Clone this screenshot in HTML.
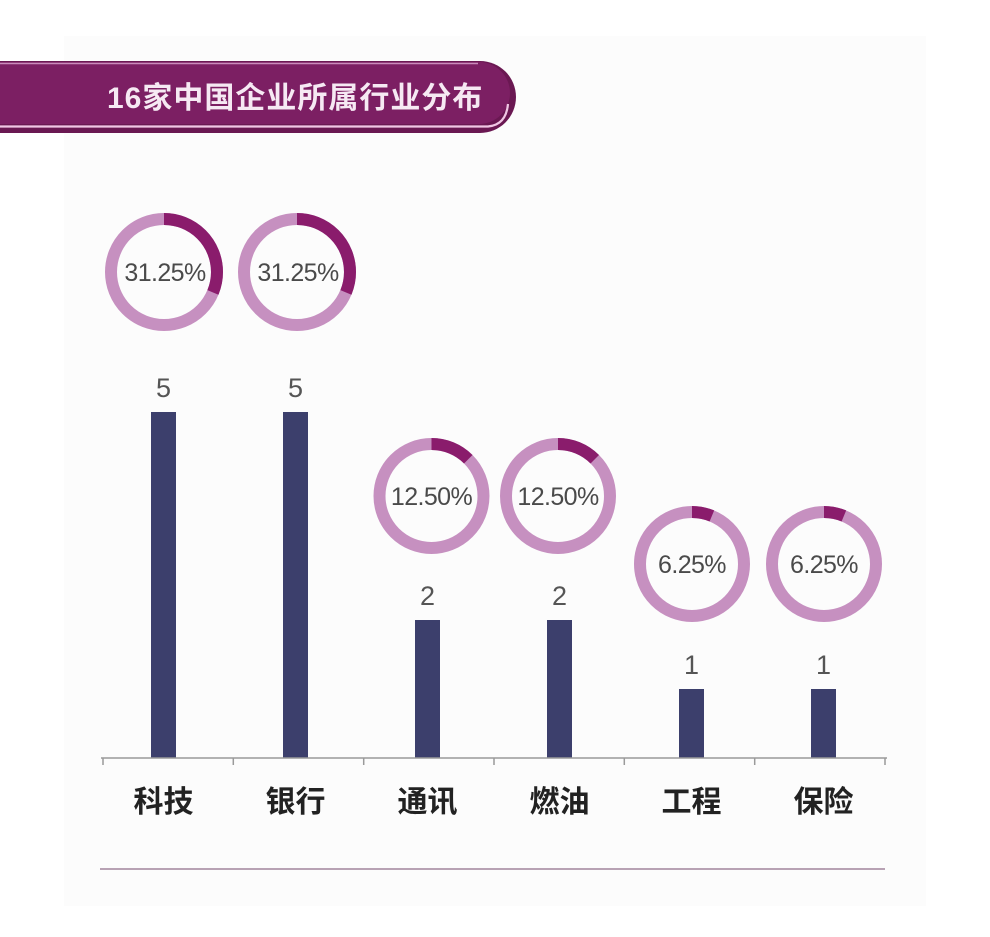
<!DOCTYPE html>
<html>
<head>
<meta charset="utf-8">
<style>
  html,body{margin:0;padding:0;background:#fff;}
  body{width:990px;height:937px;overflow:hidden;}
  svg{display:block;}
  .cjk{font-family:"Liberation Sans","Noto Sans CJK SC","WenQuanYi Zen Hei",sans-serif;}
  .num{font-family:"Liberation Sans",sans-serif;}
</style>
</head>
<body>
<svg width="990" height="937" viewBox="0 0 990 937" xmlns="http://www.w3.org/2000/svg">
  <rect x="0" y="0" width="990" height="937" fill="#ffffff"/>
  <rect x="64" y="36" width="862" height="870" fill="#fcfcfc"/>

  <!-- Title banner -->
  <path d="M-5 61 H480 A35 35 0 0 1 480 133 H-5 Z" fill="#6a1852"/>
  <path d="M-5 62 H479 A31 31 0 0 1 479 124 H-5 Z" fill="#7c1f63"/>
  <path d="M-5 63.5 H478" stroke="#c98bbb" stroke-width="1.5" fill="none"/>
  <path d="M-5 126.5 H488 Q506 125 508 104" stroke="#f0c6e4" stroke-width="2.2" fill="none"/>
  <text x="107" y="108" class="cjk" font-size="30" font-weight="bold" fill="#f6e9f3" letter-spacing="1">16家中国企业所属行业分布</text>

  <!-- Donuts -->
  <g fill="none" stroke-width="12">
    <circle cx="164" cy="272" r="53" stroke="#c690c0"/>
    <circle cx="164" cy="272" r="53" stroke="#8a1c6c" stroke-dasharray="104.1 400" transform="rotate(-90 164 272)"/>
    <circle cx="297" cy="272" r="53" stroke="#c690c0"/>
    <circle cx="297" cy="272" r="53" stroke="#8a1c6c" stroke-dasharray="104.1 400" transform="rotate(-90 297 272)"/>

    <circle cx="431.5" cy="496" r="52" stroke="#c690c0"/>
    <circle cx="431.5" cy="496" r="52" stroke="#8a1c6c" stroke-dasharray="40.8 400" transform="rotate(-90 431.5 496)"/>
    <circle cx="558" cy="496" r="52" stroke="#c690c0"/>
    <circle cx="558" cy="496" r="52" stroke="#8a1c6c" stroke-dasharray="40.8 400" transform="rotate(-90 558 496)"/>

    <circle cx="692" cy="564" r="52" stroke="#c690c0"/>
    <circle cx="692" cy="564" r="52" stroke="#8a1c6c" stroke-dasharray="20.4 400" transform="rotate(-90 692 564)"/>
    <circle cx="824" cy="564" r="52" stroke="#c690c0"/>
    <circle cx="824" cy="564" r="52" stroke="#8a1c6c" stroke-dasharray="20.4 400" transform="rotate(-90 824 564)"/>
  </g>
  <g class="num" font-size="25" fill="#4a4a4a" text-anchor="middle" letter-spacing="-0.6">
    <text x="165" y="281">31.25%</text>
    <text x="298" y="281">31.25%</text>
    <text x="431.5" y="505">12.50%</text>
    <text x="558" y="505">12.50%</text>
    <text x="692" y="573">6.25%</text>
    <text x="824" y="573">6.25%</text>
  </g>

  <!-- Bars -->
  <g fill="#3c3f6c">
    <rect x="151" y="412" width="25" height="346"/>
    <rect x="283" y="412" width="25" height="346"/>
    <rect x="415" y="620" width="25" height="138"/>
    <rect x="547" y="620" width="25" height="138"/>
    <rect x="679" y="689" width="25" height="69"/>
    <rect x="811" y="689" width="25" height="69"/>
  </g>
  <g class="num" font-size="27" fill="#555" text-anchor="middle">
    <text x="163.5" y="397">5</text>
    <text x="295.5" y="397">5</text>
    <text x="427.5" y="605">2</text>
    <text x="559.5" y="605">2</text>
    <text x="691.5" y="674">1</text>
    <text x="823.5" y="674">1</text>
  </g>

  <!-- Axis -->
  <g stroke="#9a9a9a" stroke-width="1.5" fill="none">
    <path d="M101 758 H887"/>
    <path d="M103 758 V765 M233.3 758 V765 M363.7 758 V765 M494 758 V765 M624.3 758 V765 M754.7 758 V765 M885 758 V765"/>
  </g>

  <!-- Category labels -->
  <g class="cjk" font-size="30" font-weight="bold" fill="#222" text-anchor="middle">
    <text x="163.5" y="812">科技</text>
    <text x="295.5" y="812">银行</text>
    <text x="427.5" y="812">通讯</text>
    <text x="559.5" y="812">燃油</text>
    <text x="691.5" y="812">工程</text>
    <text x="823.5" y="812">保险</text>
  </g>

  <!-- Bottom line -->
  <path d="M100 869 H885" stroke="#b8a2b4" stroke-width="2" fill="none"/>
</svg>
</body>
</html>
